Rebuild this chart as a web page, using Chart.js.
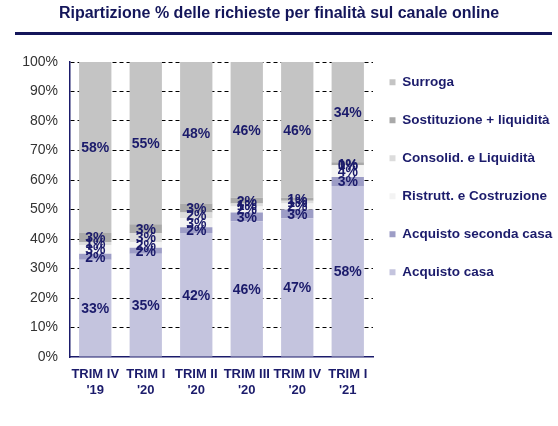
<!DOCTYPE html>
<html>
<head>
<meta charset="utf-8">
<script src="https://cdn.jsdelivr.net/npm/chart.js@4.4.0/dist/chart.umd.min.js"></script>
<style>
  body { margin: 0; background: #fff; }
  #wrap { position: relative; width: 558px; height: 426px; }
  #title { position: absolute; left: 0; top: 4px; width: 558px; text-align: center;
           font: bold 16px "Liberation Sans", Arial, sans-serif; color: #14165a; }
  #rule { position: absolute; left: 15px; top: 32px; width: 537px; height: 3px; background: #14165a; }
  canvas { position: absolute; left: 0; top: 0; }
</style>
</head>
<body>
<div id="wrap">
  <canvas id="finalitaChart" width="558" height="426"></canvas>
  <div id="title">Ripartizione % delle richieste per finalità sul canale online</div>
  <div id="rule"></div>
</div>
<script>
// ===== Dati =====
const quarters = [
  ['TRIM IV', "'19"],
  ['TRIM I', "'20"],
  ['TRIM II', "'20"],
  ['TRIM III', "'20"],
  ['TRIM IV', "'20"],
  ['TRIM I', "'21"]
];

const acquistoCasa = [33, 35, 42, 46, 47, 58];
const acquistoSecondaCasa = [2, 2, 2, 3, 3, 3];
const ristruttCostruzione = [3, 2, 3, 2, 2, 4];
const consolidLiquidita = [1, 3, 2, 1, 1, 0];
const sostituzioneLiquidita = [3, 3, 3, 2, 1, 1];
const surroga = [58, 55, 48, 46, 46, 34];

const yTicks = [0, 10, 20, 30, 40, 50, 60, 70, 80, 90, 100];

const navy = '#1b1b6b';
const font = '"Liberation Sans", Arial, sans-serif';

// etichette dentro i segmenti
const segmentLabels = {
  id: 'segmentLabels',
  afterDatasetsDraw(chart) {
    const ctx = chart.ctx;
    ctx.save();
    ctx.font = 'bold 14px ' + font;
    ctx.fillStyle = navy;
    ctx.textAlign = 'center';
    ctx.textBaseline = 'middle';
    chart.data.datasets.forEach((ds, i) => {
      chart.getDatasetMeta(i).data.forEach((bar, j) => {
        ctx.fillText(ds.data[j] + '%', bar.x, (bar.y + bar.base) / 2 + 1);
      });
    });
    ctx.restore();
  }
};

// sposta un po' la legenda
const legendShift = {
  id: 'legendShift',
  afterLayout(chart) {
    chart.legend.left -= 8;
    chart.legend.top -= 11;
  }
};

const finalitaChart = document.getElementById('finalitaChart');

new Chart(finalitaChart, {
  type: 'bar',

  data: {
    labels: quarters,

    datasets: [
      { label: 'Acquisto casa', data: acquistoCasa, backgroundColor: '#c4c4de' },
      { label: 'Acquisto seconda casa', data: acquistoSecondaCasa, backgroundColor: '#9d9dc6' },
      { label: 'Ristrutt. e Costruzione', data: ristruttCostruzione, backgroundColor: '#f3f3f3' },
      { label: 'Consolid. e Liquidità', data: consolidLiquidita, backgroundColor: '#dcdcdc' },
      { label: 'Sostituzione + liquidità', data: sostituzioneLiquidita, backgroundColor: '#a9a9a9' },
      { label: 'Surroga', data: surroga, backgroundColor: '#c4c4c4' }
    ]
  },

  options: {
    responsive: false,
    animation: false,
    categoryPercentage: 1,
    barPercentage: 0.64,

    layout: {
      padding: { top: 62, left: 0, right: 0, bottom: 0 }
    },

    scales: {
      x: {
        stacked: true,
        grid: { display: false },
        border: { color: navy, width: 1.5 },
        ticks: {
          color: navy,
          padding: 2,
          autoSkip: false,
          maxRotation: 0,
          minRotation: 0,
          font: { family: font, size: 13, weight: 'bold' }
        },
        afterFit(scale) { scale.height = 69; }
      },
      y: {
        stacked: true,
        min: 0,
        max: 100,
        afterBuildTicks(scale) { scale.ticks = yTicks.map(v => ({ value: v })); },
        ticks: {
          color: '#333',
          padding: 12,
          font: { family: font, size: 14 },
          callback: v => v + '%'
        },
        grid: {
          drawTicks: false,
          color: c => (c.tick && c.tick.value === 0) ? 'rgba(0,0,0,0)' : '#000',
          lineWidth: 1
        },
        border: { color: navy, width: 1.5, dash: [4, 3] },
        afterFit(scale) { scale.width = 70; }
      }
    },

    plugins: {
      legend: {
        position: 'right',
        align: 'start',
        fullSize: false,
        reverse: true,
        maxWidth: 185,
        labels: {
          boxWidth: 6,
          boxHeight: 6,
          padding: 24.5,
          color: navy,
          font: { family: font, size: 13.5, weight: 'bold' }
        }
      },
      tooltip: { enabled: false }
    }
  },

  plugins: [segmentLabels, legendShift]
});
</script>
</body>
</html>
